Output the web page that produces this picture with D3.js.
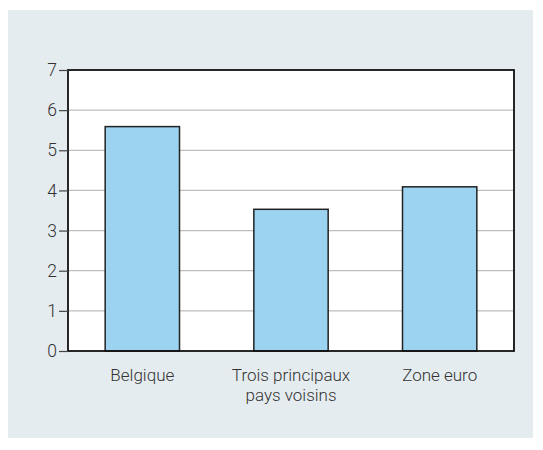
<!DOCTYPE html>
<html>
<head>
<meta charset="utf-8">
<script src="https://cdn.jsdelivr.net/npm/d3@7"></script>
<style>
  body { margin: 0; background: #fff; }
  text { font-family: Roboto, "Liberation Sans", sans-serif; font-weight: 300; }
</style>
</head>
<body>
<div id="chart"></div>
<script>
var categories = [["Belgique"], ["Trois principaux", "pays voisins"], ["Zone euro"]];
var values = [5.59, 3.53, 4.09];
var yTicks = [0, 1, 2, 3, 4, 5, 6, 7];

var svgWidth = 543;
var svgHeight = 450;

var margin = { top: 70, right: 29, bottom: 99, left: 68 };
var width = svgWidth - margin.left - margin.right;
var height = svgHeight - margin.top - margin.bottom;

var svg = d3.select("#chart")
  .append("svg")
  .attr("width", svgWidth)
  .attr("height", svgHeight);

// panel background
svg.append("rect")
  .attr("x", 8).attr("y", 10)
  .attr("width", 525).attr("height", 428)
  .attr("fill", "#e5ecef");

var chartGroup = svg.append("g")
  .attr("transform", `translate(${margin.left}, ${margin.top})`);

chartGroup.append("rect")
  .attr("width", width).attr("height", height)
  .attr("fill", "#fff");

var idx = categories.map((d, i) => i);
var xScale = d3.scaleBand().domain(idx).range([0, width])
  .paddingInner(0.5).paddingOuter(0.25);
var yScale = d3.scaleLinear().domain([0, 7]).range([height, 0]);

// gridlines
chartGroup.selectAll(".grid")
  .data(yTicks.slice(1, -1))
  .enter()
  .append("line")
  .attr("x1", 0).attr("x2", width)
  .attr("y1", d => yScale(d)).attr("y2", d => yScale(d))
  .attr("stroke", "#bdbdbd")
  .attr("stroke-width", 1.2);

// bars
chartGroup.selectAll(".bar")
  .data(values)
  .enter()
  .append("rect")
  .attr("x", (d, i) => xScale(i))
  .attr("y", d => yScale(d))
  .attr("width", xScale.bandwidth())
  .attr("height", d => height - yScale(d))
  .attr("fill", "#9bd3f0")
  .attr("stroke", "#222")
  .attr("stroke-width", 1.5);

// frame
chartGroup.append("rect")
  .attr("width", width).attr("height", height)
  .attr("fill", "none")
  .attr("stroke", "#111")
  .attr("stroke-width", 1.8);

// y axis
var leftAxis = d3.axisLeft(yScale).tickValues(yTicks).tickSize(9).tickPadding(2).tickFormat(d3.format("d"));
var yAxis = chartGroup.append("g").call(leftAxis);
yAxis.select(".domain").remove();
yAxis.selectAll("line").attr("stroke", "#444").attr("stroke-width", 1.2);
yAxis.selectAll("text").style("font-size", "17.5px").attr("fill", "#333");

// x labels, one text per line
var lines = [];
categories.forEach(function(c, i) {
  c.forEach(function(t, j) { lines.push({ i: i, j: j, t: t }); });
});

chartGroup.selectAll(".xlabel")
  .data(lines)
  .enter()
  .append("text")
  .attr("class", "xlabel")
  .attr("text-anchor", "middle")
  .attr("x", d => xScale(d.i) + xScale.bandwidth() / 2)
  .attr("y", d => height + 30 + d.j * 19.5)
  .attr("fill", "#333")
  .style("font-size", "17px")
  .text(d => d.t);
</script>
</body>
</html>
